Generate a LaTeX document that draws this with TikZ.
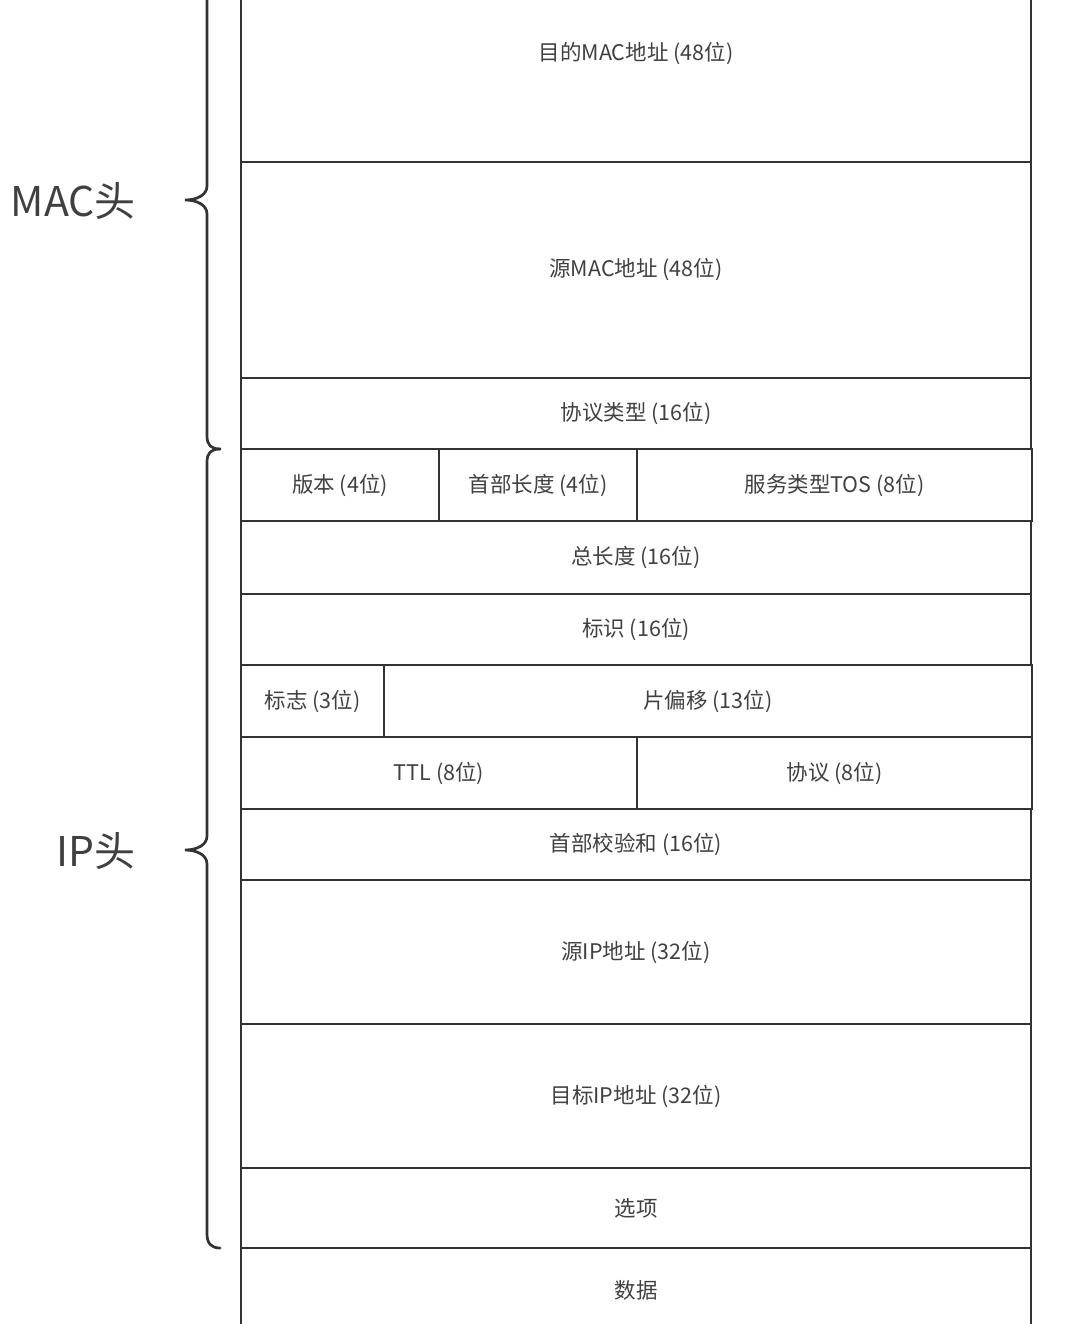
\documentclass[tikz,border=0pt]{standalone}
\usepackage{fontspec}
\setmainfont{Noto Sans CJK SC}
\usepackage{tikz}
\definecolor{framegray}{HTML}{333333}
\definecolor{textgray}{HTML}{404040}
\tikzset{
  field/.style={draw=framegray, line width=2.7pt, rectangle, inner sep=0pt,
    text=textgray, font=\fontsize{21.5}{26}\selectfont},
  hdrlabel/.style={anchor=east, inner sep=0pt, text=textgray,
    font=\fontsize{41}{48}\selectfont},
  hdrbrace/.style={draw=framegray, line width=2.7pt, line cap=round}
}

\begin{document}
\begin{tikzpicture}[x=1pt, y=-1pt]
  \path[use as bounding box, clip] (0,0) rectangle (1080,1324);
  % MAC header
  \node[field, minimum width=790pt, minimum height=216pt] (dstmac) at (636,54) {目的MAC地址 (48位)};
  \node[field, minimum width=790pt, minimum height=216pt] (srcmac) at (636,270) {源MAC地址 (48位)};
  \node[field, minimum width=790pt, minimum height=71pt] (ethtype) at (636,413.5) {协议类型 (16位)};
  % IP header
  \node[field, minimum width=198pt, minimum height=72pt] (ver) at (340,485) {版本 (4位)};
  \node[field, minimum width=198pt, minimum height=72pt] (ihl) at (538,485) {首部长度 (4位)};
  \node[field, minimum width=395pt, minimum height=72pt] (tos) at (834.5,485) {服务类型TOS (8位)};
  \node[field, minimum width=790pt, minimum height=73pt] (totlen) at (636,557.5) {总长度 (16位)};
  \node[field, minimum width=790pt, minimum height=71pt] (ident) at (636,629.5) {标识 (16位)};
  \node[field, minimum width=143pt, minimum height=72pt] (flags) at (312.5,701) {标志 (3位)};
  \node[field, minimum width=648pt, minimum height=72pt] (fragoff) at (708,701) {片偏移 (13位)};
  \node[field, minimum width=396pt, minimum height=72pt] (ttl) at (439,773) {TTL (8位)};
  \node[field, minimum width=395pt, minimum height=72pt] (proto) at (834.5,773) {协议 (8位)};
  \node[field, minimum width=790pt, minimum height=71pt] (hdrsum) at (636,844.5) {首部校验和 (16位)};
  \node[field, minimum width=790pt, minimum height=144pt] (srcip) at (636,952) {源IP地址 (32位)};
  \node[field, minimum width=790pt, minimum height=144pt] (dstip) at (636,1096) {目标IP地址 (32位)};
  \node[field, minimum width=790pt, minimum height=80pt] (options) at (636,1208) {选项};
  \node[field, minimum width=790pt, minimum height=84pt] (payload) at (636,1290) {数据};
  % braces
  \draw[hdrbrace] (207,-60) -- (207,186) .. controls (207,195) and (197,200) .. (185,200)
    .. controls (197,200) and (207,205) .. (207,214) -- (207,436)
    .. controls (207,445) and (211,449) .. (220,449);
  \draw[hdrbrace] (220,449) .. controls (211,449) and (207,453) .. (207,462) -- (207,836)
    .. controls (207,845) and (197,850) .. (185,850)
    .. controls (197,850) and (207,855) .. (207,864) -- (207,1234)
    .. controls (207,1243) and (211,1248) .. (220,1248);
  \node[hdrlabel] (machdr) at (136,201) {MAC头};
  \node[hdrlabel] (iphdr) at (136,851) {IP头};
\end{tikzpicture}
\end{document}
